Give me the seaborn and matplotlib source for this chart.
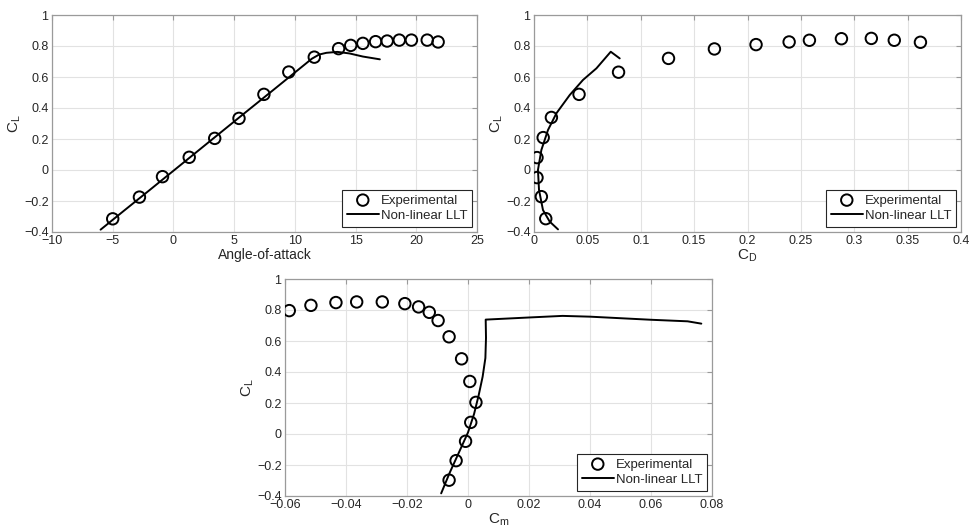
import matplotlib
matplotlib.use("Agg")
import matplotlib.pyplot as plt
from matplotlib.ticker import FixedLocator, FuncFormatter
import numpy as np
import seaborn as sns

# ---- Experimental measurements ----
exp_alpha = [-5.0, -2.8, -0.9, 1.3, 3.4, 5.4, 7.45, 9.5, 11.6, 13.6, 14.6, 15.6,
             16.65, 17.6, 18.6, 19.6, 20.9, 21.8]
exp_cl_alpha = [-0.315, -0.175, -0.043, 0.082, 0.204, 0.333, 0.488, 0.632, 0.728,
                0.783, 0.804, 0.817, 0.828, 0.832, 0.838, 0.838, 0.838, 0.826]

exp_cd = [0.011, 0.0069, 0.0028, 0.0028, 0.0086, 0.0163, 0.0422, 0.0792, 0.126,
          0.169, 0.208, 0.239, 0.258, 0.288, 0.316, 0.3375, 0.362]
exp_cl_drag = [-0.314, -0.172, -0.049, 0.080, 0.209, 0.339, 0.488, 0.631, 0.720,
               0.781, 0.809, 0.826, 0.837, 0.847, 0.849, 0.837, 0.824]

exp_cm = [-0.0062, -0.0039, -0.0008, 0.0009, 0.0026, 0.0006, -0.0021, -0.0062,
          -0.0098, -0.0127, -0.0162, -0.0207, -0.0281, -0.0365, -0.0433, -0.0515, -0.0586]
exp_cl_moment = [-0.298, -0.172, -0.047, 0.075, 0.204, 0.339, 0.485, 0.627, 0.732,
                 0.785, 0.820, 0.841, 0.852, 0.852, 0.848, 0.830, 0.796]

# ---- Non-linear lifting-line theory ----
llt_alpha = [-6.0, -4.0, -2.0, 0.0, 2.0, 4.0, 6.0, 8.0, 10.0, 11.4, 12.0, 12.6,
             13.5, 14.5, 15.6, 17.0]
llt_cl_alpha = [-0.385, -0.258, -0.132, -0.005, 0.122, 0.249, 0.376, 0.502, 0.629,
                0.718, 0.745, 0.756, 0.762, 0.752, 0.732, 0.714]

llt_cd = [0.0225, 0.0147, 0.0084, 0.0047, 0.0037, 0.0069, 0.0131, 0.0210, 0.0335,
          0.0459, 0.0585, 0.0719, 0.0803]
llt_cl_drag = [-0.383, -0.333, -0.258, -0.129, 0.0, 0.129, 0.258, 0.366, 0.484,
               0.581, 0.656, 0.763, 0.720]

llt_cm = [-0.0088, -0.0060, -0.0030, 0.0000, 0.0020, 0.0035, 0.0048, 0.0057, 0.0059,
          0.0058, 0.0203, 0.0310, 0.0400, 0.0600, 0.0720, 0.0765]
llt_cl_moment = [-0.383, -0.25, -0.12, 0.01, 0.13, 0.25, 0.37, 0.49, 0.62, 0.738,
                 0.752, 0.762, 0.757, 0.737, 0.727, 0.712]

# ---- Axis ticks ----
cl_ticks = [-0.4, -0.2, 0, 0.2, 0.4, 0.6, 0.8, 1]
alpha_ticks = [-10, -5, 0, 5, 10, 15, 20, 25]
cd_ticks = [0, 0.05, 0.1, 0.15, 0.2, 0.25, 0.3, 0.35, 0.4]
cm_ticks = [-0.06, -0.04, -0.02, 0, 0.02, 0.04, 0.06, 0.08]

sns.set_theme(style="whitegrid", rc={
    "axes.edgecolor": "#9a9a9a",
    "axes.linewidth": 0.9,
    "grid.color": "#e2e2e2",
    "grid.linewidth": 0.8,
    "xtick.direction": "in",
    "ytick.direction": "in",
    "xtick.color": "#9a9a9a",
    "ytick.color": "#9a9a9a",
    "xtick.labelcolor": "#262626",
    "ytick.labelcolor": "#262626",
    "xtick.major.size": 3.5,
    "ytick.major.size": 3.5,
    "xtick.major.width": 0.8,
    "ytick.major.width": 0.8,
    "xtick.major.pad": 2.5,
    "ytick.major.pad": 2.5,
    "xtick.top": True,
    "ytick.right": True,
    "text.color": "#262626",
    "axes.labelcolor": "#262626",
})
plt.rcParams["font.family"] = ["Liberation Sans", "DejaVu Sans"]
plt.rcParams["mathtext.default"] = "regular"
plt.rcParams["axes.unicode_minus"] = True


def fmt(v, _pos):
    s = f"{round(v, 6):g}"
    if s == "-0":
        s = "0"
    return s.replace("-", "\u2212")


fig = plt.figure(figsize=(9.69, 5.32), dpi=100)
ax1 = fig.add_axes([52 / 969, 300 / 532, 425 / 969, 217 / 532])
ax2 = fig.add_axes([534 / 969, 300 / 532, 427 / 969, 217 / 532])
ax3 = fig.add_axes([285 / 969, 36 / 532, 427 / 969, 217 / 532])

panels = [
    (ax1, exp_alpha, exp_cl_alpha, llt_alpha, llt_cl_alpha, alpha_ticks, "Angle-of-attack"),
    (ax2, exp_cd, exp_cl_drag, llt_cd, llt_cl_drag, cd_ticks, "C$_D$"),
    (ax3, exp_cm, exp_cl_moment, llt_cm, llt_cl_moment, cm_ticks, "C$_m$"),
]

for ax, ex, ey, lx, ly, xticks, xlabel in panels:
    sns.scatterplot(x=ex, y=ey, ax=ax, marker="o", s=68, facecolors="none",
                    edgecolors="black", linewidths=1.4, label="Experimental",
                    zorder=3)
    sns.lineplot(x=lx, y=ly, ax=ax, sort=False, estimator=None, color="black",
                 linewidth=1.4, label="Non-linear LLT", zorder=2)
    ax.set_xlim(xticks[0], xticks[-1])
    ax.set_ylim(-0.4, 1)
    ax.xaxis.set_major_locator(FixedLocator(xticks))
    ax.yaxis.set_major_locator(FixedLocator(cl_ticks))
    ax.xaxis.set_major_formatter(FuncFormatter(fmt))
    ax.yaxis.set_major_formatter(FuncFormatter(fmt))
    ax.tick_params(labelsize=9)
    if xlabel.startswith("C"):
        ax.set_xlabel(xlabel, fontsize=11, labelpad=0)
    else:
        ax.set_xlabel(xlabel, fontsize=10, labelpad=0.5)
    ax.set_ylabel("C$_L$", fontsize=11, labelpad=1)
    for sp in ax.spines.values():
        sp.set_visible(True)
        sp.set_color("#9a9a9a")
    ax.set_axisbelow(True)
    leg = ax.legend(loc="lower right", fontsize=9.5, frameon=True, fancybox=False,
                    framealpha=1, edgecolor="#262626", handlelength=2.4,
                    handletextpad=0.15, borderpad=0.35, labelspacing=0.25,
                    borderaxespad=0.4)
    leg.get_frame().set_linewidth(0.8)

fig.savefig("out.png", dpi=100, facecolor="white")
